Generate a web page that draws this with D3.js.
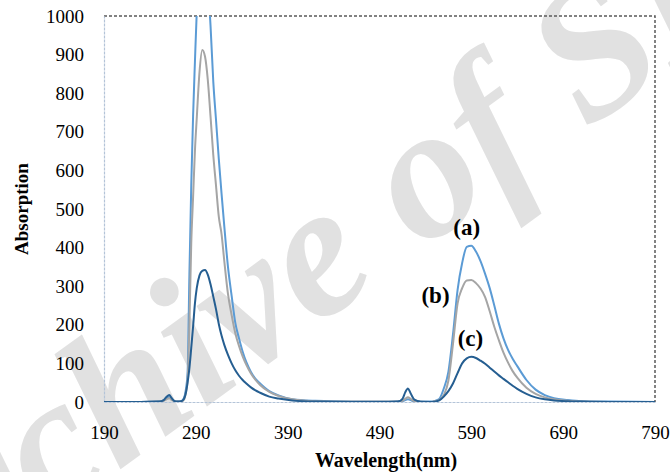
<!DOCTYPE html>
<html>
<head>
<meta charset="utf-8">
<script src="https://cdn.jsdelivr.net/npm/d3@7"></script>
<style>
  html, body { margin: 0; padding: 0; background: #fff; }
  svg { display: block; }
  text { font-family: "Liberation Serif", "Times New Roman", serif; }
</style>
</head>
<body>
<div id="chart"></div>
<script>
// wavelengths (nm), shared by the three spectra
var wavelengths = [190, 230, 250, 255, 258, 261, 264, 267, 270,
  274, 277, 279, 281, 283, 285, 287, 289, 291,
  294, 297, 300, 303, 306, 309, 312, 315, 318, 321,
  325, 329, 333, 337, 341, 345, 350, 355, 360,
  370, 380, 395, 420, 460, 500,
  510, 515, 518, 521, 524, 528, 535,
  545, 550, 555, 560, 565, 570, 575, 580, 585, 590,
  595, 600, 605, 610, 615, 620, 625, 630, 635, 640,
  650, 660, 670, 680, 695, 710, 740, 790];

// (a) light blue - clipped at 1000 by the axis
var seriesA = [0, 0, 1, 4, 10, 13, 7, 2, 1,
  2, 10, 30, 75, 330, 560, 740, 880, 1010,
  1100, 1150, 1140, 1080, 975, 830, 730, 630, 540, 455,
  350, 275, 205, 165, 130, 103, 78, 60, 48,
  28, 17, 7, 3, 1, 1,
  1, 2, 5, 7, 5, 1, 0,
  1, 3, 8, 35, 78, 175, 290, 360, 402, 405,
  390, 365, 332, 295, 250, 203, 165, 135, 112, 93,
  57, 32, 18, 10, 5, 2, 1, 0];

// (b) grey
var seriesB = [0, 0, 1, 3, 7, 10, 5, 2, 1,
  1, 6, 22, 55, 200, 410, 530, 650, 735,
  855, 912, 895, 835, 740, 640, 560, 480, 435, 365,
  280, 225, 178, 145, 118, 96, 74, 57, 44,
  26, 16, 7, 2, 1, 1,
  1, 3, 8, 12, 8, 2, 0,
  0, 2, 5, 18, 55, 150, 255, 295, 315, 316,
  308, 294, 272, 235, 195, 160, 128, 102, 80, 63,
  37, 21, 12, 7, 3, 1, 0, 0];

// (c) dark blue
var seriesC = [0, 0, 1, 5, 13, 18, 9, 2, 1,
  2, 8, 22, 50, 88, 140, 195, 255, 295,
  328, 340, 342, 330, 305, 273, 240, 202, 172, 148,
  122, 100, 82, 68, 57, 48, 38, 30, 24,
  14, 9, 4, 1, 0, 0,
  1, 8, 25, 35, 22, 6, 1,
  0, 1, 4, 14, 28, 48, 75, 100, 113, 117,
  114, 107, 99, 89, 79, 69, 60, 51, 42, 34,
  21, 12, 7, 4, 2, 1, 0, 0];

var xTicks = [190, 290, 390, 490, 590, 690, 790];
var yTicks = [0, 100, 200, 300, 400, 500, 600, 700, 800, 900, 1000];
var seriesNames = ["(a)", "(b)", "(c)"];
var seriesColors = ["#5b9bd5", "#a5a5a5", "#255e91"];

var width = 670, height = 472;
var plot = {left: 104, right: 655, top: 16, bottom: 402};

var svg = d3.select("#chart").append("svg")
    .attr("width", width)
    .attr("height", height);

// watermark
svg.append("text")
    .attr("transform", "translate(-113,639) rotate(-36)")
    .style("font-size", "190px")
    .style("font-style", "italic")
    .style("font-weight", "bold")
    .style("fill", "#e1e1e1")
    .text("Archive of SID");

var x = d3.scaleLinear().domain([190, 790]).range([plot.left, plot.right]);
var y = d3.scaleLinear().domain([0, 1000]).range([plot.bottom, plot.top]);

svg.append("clipPath").attr("id", "plotClip")
  .append("rect")
    .attr("x", plot.left).attr("y", plot.top)
    .attr("width", plot.right - plot.left)
    .attr("height", plot.bottom - plot.top);

// frame: top and right dashed dark, left and bottom light axis lines
svg.append("path")
    .attr("d", "M" + plot.left + "," + plot.top + "H" + plot.right + "V" + plot.bottom)
    .style("fill", "none")
    .style("stroke", "#595959")
    .style("stroke-width", 1.5)
    .style("stroke-dasharray", "3,2");

var xAxis = svg.append("g")
    .attr("transform", "translate(0," + plot.bottom + ")")
    .call(d3.axisBottom(x).tickValues(xTicks).tickSize(0).tickPadding(24));
var yAxis = svg.append("g")
    .attr("transform", "translate(" + plot.left + ",0)")
    .call(d3.axisLeft(y).tickValues(yTicks).tickFormat(d3.format("d")).tickSize(0).tickPadding(20));
[xAxis, yAxis].forEach(function (g) {
    g.select(".domain")
        .style("stroke", "#b4c4d8")
        .style("stroke-width", 1.2)
        .style("stroke-dasharray", "3,1");
    g.selectAll("text")
        .style("font-family", "'Liberation Serif', serif")
        .style("font-size", "19px")
        .style("fill", "#000");
});

var line = d3.line()
    .x(function (d) { return x(d[0]); })
    .y(function (d) { return y(d[1]); })
    .curve(d3.curveMonotoneX);

[seriesA, seriesB, seriesC].forEach(function (vals, i) {
    svg.append("path")
        .datum(wavelengths.map(function (w, j) { return [w, vals[j]]; }))
        .attr("clip-path", "url(#plotClip)")
        .attr("d", line)
        .style("fill", "none")
        .style("stroke", seriesColors[i])
        .style("stroke-width", 2);
});

// series labels
var labelPos = [[585, 453], [551, 277], [589, 166]];
svg.selectAll(".series-label")
    .data(seriesNames)
  .enter().append("text")
    .attr("class", "series-label")
    .attr("x", function (d, i) { return x(labelPos[i][0]); })
    .attr("y", function (d, i) { return y(labelPos[i][1]); })
    .attr("dy", "0.35em")
    .attr("text-anchor", "middle")
    .style("font-size", "23px")
    .style("font-weight", "bold")
    .text(function (d) { return d; });

// axis titles
svg.append("text")
    .attr("x", 386).attr("y", 467)
    .attr("text-anchor", "middle")
    .style("font-size", "20px")
    .style("font-weight", "bold")
    .text("Wavelength(nm)");
svg.append("text")
    .attr("transform", "translate(28,209) rotate(-90)")
    .attr("text-anchor", "middle")
    .style("font-size", "19px")
    .style("font-weight", "bold")
    .text("Absorption");
</script>
</body>
</html>
